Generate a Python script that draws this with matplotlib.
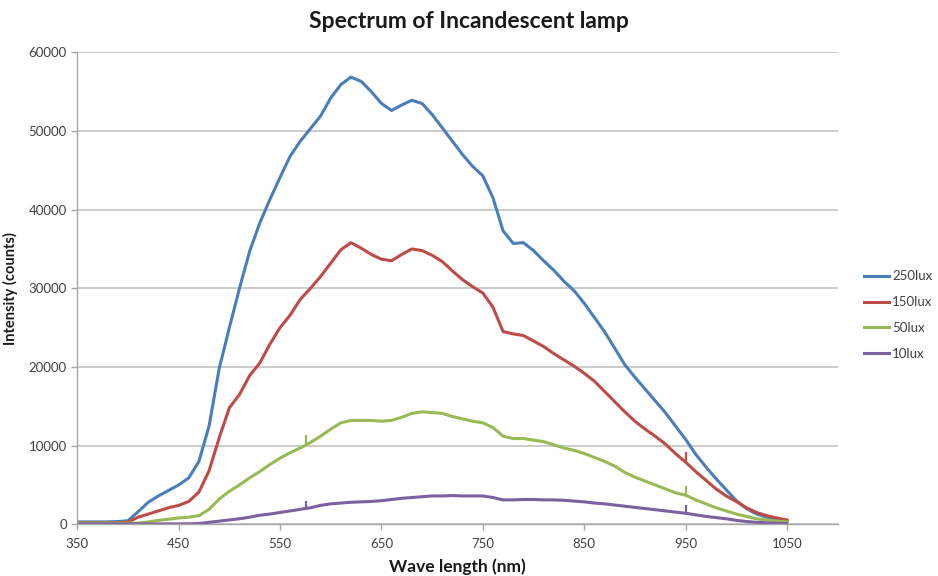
import matplotlib.pyplot as plt
import numpy as np

# wavelength grid (nm) and measured counts for each illuminance
wavelength = np.arange(350, 1051, 10)

lux_250 = [300, 300, 300, 300, 350, 450, 1600, 2800, 3600, 4300,
           5000, 5900, 8000, 12500, 19800, 25000, 30000, 34700, 38300, 41300,
           44100, 46800, 48700, 50300, 51900, 54200, 55900, 56850, 56300, 55000,
           53500, 52600, 53300, 53900, 53500, 52100, 50400, 48700, 47000, 45500,
           44300, 41500, 37300, 35700, 35800, 34800, 33500, 32300, 30900, 29700,
           28100, 26300, 24500, 22400, 20300, 18700, 17200, 15700, 14200, 12500,
           10800, 8900, 7300, 5800, 4400, 3000, 2000, 1300, 900, 650,
           450]

lux_150 = [200, 200, 200, 200, 200, 300, 900, 1300, 1700, 2100,
           2400, 2900, 4100, 6800, 11000, 14800, 16500, 18900, 20500, 22900,
           25000, 26600, 28600, 30000, 31500, 33200, 34900, 35800, 35100, 34300,
           33700, 33500, 34300, 35000, 34800, 34200, 33400, 32200, 31100, 30200,
           29400, 27600, 24500, 24200, 24000, 23300, 22600, 21700, 20900, 20100,
           19200, 18200, 16900, 15600, 14300, 13100, 12100, 11200, 10200, 9000,
           7900, 6700, 5600, 4500, 3600, 2900, 2100, 1500, 1100, 800,
           550]

lux_50 = [150, 150, 150, 150, 150, 150, 150, 300, 500, 650,
          800, 900, 1100, 1900, 3200, 4200, 5000, 5900, 6700, 7600,
          8400, 9100, 9700, 10400, 11200, 12100, 12900, 13200, 13200, 13200,
          13100, 13200, 13600, 14100, 14300, 14200, 14100, 13700, 13400, 13100,
          12900, 12300, 11200, 10900, 10900, 10700, 10500, 10100, 9700, 9400,
          9000, 8500, 8000, 7400, 6600, 6000, 5500, 5000, 4500, 4000,
          3700, 3100, 2600, 2100, 1700, 1300, 1000, 700, 550, 400,
          300]

lux_10 = [50, 50, 50, 50, 50, 50, 50, 50, 50, 50,
          50, 50, 100, 250, 400, 550, 700, 900, 1150, 1300,
          1500, 1700, 1900, 2100, 2400, 2600, 2700, 2800, 2850, 2900,
          3000, 3150, 3300, 3400, 3500, 3600, 3600, 3650, 3600, 3600,
          3600, 3400, 3100, 3100, 3150, 3150, 3100, 3100, 3050, 2950,
          2850, 2700, 2600, 2450, 2300, 2150, 2000, 1850, 1700, 1550,
          1400, 1200, 1000, 850, 700, 500, 350, 250, 180, 130,
          100]

# narrow spikes in the raw spectra: (wavelength, base, peak)
spikes = {
    '150lux': [(950, 8000, 9200)],
    '50lux': [(576, 10000, 11300), (950, 3700, 4900)],
    '10lux': [(576, 2000, 2900), (950, 1400, 2500)],
}

labels = ['250lux', '150lux', '50lux', '10lux']
series = [lux_250, lux_150, lux_50, lux_10]
colors = ['#4A7EBB', '#BE4B48', '#98B954', '#7D60A0']

plt.rcParams['font.family'] = ['Lato', 'DejaVu Sans']

fig = plt.figure(figsize=(9.38, 5.76), dpi=100)
ax = fig.add_axes([0.0824, 0.0898, 0.8106, 0.8194])

for lab, vals, col in zip(labels, series, colors):
    ax.plot(wavelength, vals, color=col, lw=2.2, label=lab)
    for wl, lo, hi in spikes.get(lab, []):
        ax.vlines(wl, lo, hi, color=col, lw=1.6)

ax.set_xlim(350, 1100)
ax.set_ylim(0, 60000)
ax.set_xticks(np.arange(350, 1051, 100))
ax.set_yticks(np.arange(0, 60001, 10000))
ax.grid(axis='y', color='#BEBEBE', lw=1.1)
ax.set_axisbelow(True)

for side in ['top', 'right']:
    ax.spines[side].set_visible(False)
for side in ['left', 'bottom']:
    ax.spines[side].set_color('#A6A6A6')
    ax.spines[side].set_linewidth(1.0)
ax.tick_params(axis='both', colors='#A6A6A6', labelcolor='#404040',
               labelsize=9.5, length=4, width=1.0)
ax.tick_params(axis='x', pad=6)

fig.text(0.5, 0.962, 'Spectrum of Incandescent lamp', ha='center', va='center',
         fontsize=16.5, fontweight='bold', color='#1a1a1a')
ax.set_xlabel('Wave length (nm)', fontsize=12.5, fontweight='bold', color='#1a1a1a', labelpad=6)
ax.set_ylabel('Intensity (counts)', fontsize=10.5, fontweight='bold', color='#1a1a1a', labelpad=8)

ax.legend(loc='center left', bbox_to_anchor=(1.022, 0.443), frameon=False,
          fontsize=9.5, handlelength=1.9, handletextpad=0.25, labelspacing=1.05,
          labelcolor='#404040', borderaxespad=0.3)

fig.savefig('out.png', dpi=100)
